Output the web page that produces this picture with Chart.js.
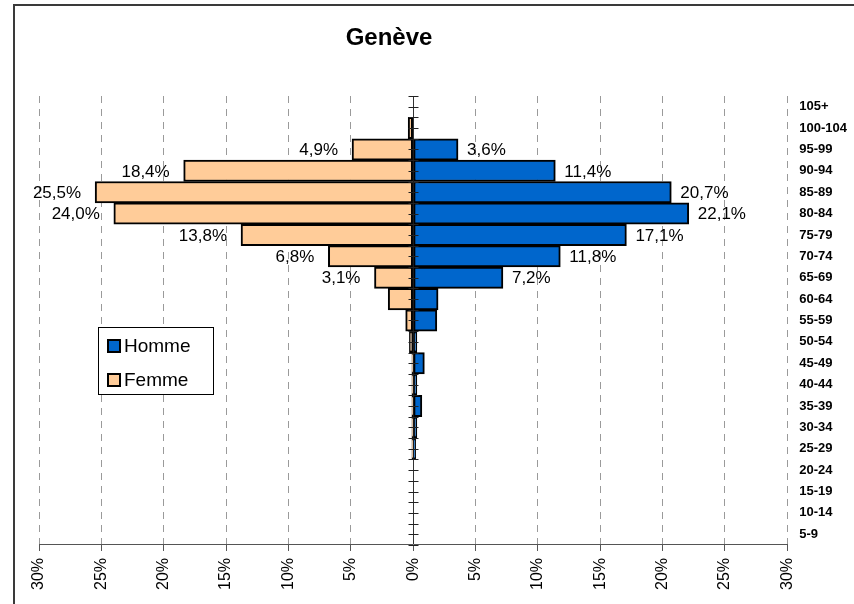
<!DOCTYPE html>
<html>
<head>
<meta charset="utf-8">
<script src="https://cdn.jsdelivr.net/npm/chart.js@4.4.1/dist/chart.umd.min.js"></script>
<style>
  html, body { margin: 0; padding: 0; background: #fff; overflow: hidden; }
  #wrap { position: relative; width: 854px; height: 604px; }
  #frame {
    position: absolute; left: 13px; top: 4px; width: 900px; height: 700px;
    border-left: 2px solid #3a3a3a; border-top: 2px solid #3a3a3a;
    pointer-events: none;
  }
</style>
</head>
<body>
<div id="wrap">
  <canvas id="pyramid" width="854" height="604"></canvas>
  <div id="frame"></div>
</div>
<script>
// ============================================
// Age pyramid - Genève
// ============================================

const TITLE = 'Genève';

// Age groups, top to bottom
const AGE_GROUPS = [
  '105+', '100-104', '95-99', '90-94', '85-89', '80-84', '75-79',
  '70-74', '65-69', '60-64', '55-59', '50-54', '45-49', '40-44',
  '35-39', '30-34', '25-29', '20-24', '15-19', '10-14', '5-9',
];

// Share of each sex per age group (%)
const HOMME = [0, 0, 3.6, 11.4, 20.7, 22.1, 17.1, 11.8, 7.2, 2.0, 1.9, 0.3, 0.9, 0.3, 0.7, 0.3, 0.2, 0, 0, 0, 0];
const FEMME = [0, 0.4, 4.9, 18.4, 25.5, 24.0, 13.8, 6.8, 3.1, 2.0, 0.6, 0.3, 0.1, 0.1, 0.1, 0.1, 0.1, 0, 0, 0, 0];

// Axis ticks (%)
const X_MIN = -30;
const X_MAX = 30;
const X_STEP = 5;

// Only bars at least this big get a value label
const LABEL_MIN = 3;

const FONT = '"Liberation Sans", Arial, Helvetica, sans-serif';
const BLUE = '#0066CC';
const PEACH = '#FFCC99';

const fmtPct = (v) => v.toFixed(1).replace('.', ',') + '%';

/**
 * Value labels outside the bar ends
 */
const barLabels = {
  id: 'barLabels',
  afterDatasetsDraw(chart) {
    const ctx = chart.ctx;
    ctx.save();
    ctx.font = '17px ' + FONT;
    ctx.fillStyle = '#000';
    ctx.textBaseline = 'middle';
    chart.data.datasets.forEach((ds, i) => {
      chart.getDatasetMeta(i).data.forEach((bar, j) => {
        const v = ds.data[j];
        if (Math.abs(v) < LABEL_MIN) return;
        if (v > 0) {
          ctx.textAlign = 'left';
          ctx.fillText(fmtPct(v), bar.x + 9, bar.y + 1);
        } else {
          ctx.textAlign = 'right';
          ctx.fillText(fmtPct(-v), bar.x - 14, bar.y + 1);
        }
      });
    });
    ctx.restore();
  },
};

/**
 * Small crossing ticks on the zero axis (category centres and edges)
 */
const zeroAxisTicks = {
  id: 'zeroAxisTicks',
  afterDatasetsDraw(chart) {
    const { ctx, scales: { x, y } } = chart;
    const x0 = Math.round(x.getPixelForValue(0)) + 0.5;
    const half = (y.getPixelForValue(1) - y.getPixelForValue(0)) / 2;
    const first = y.getPixelForValue(0) - half;
    ctx.save();
    ctx.strokeStyle = '#222';
    ctx.lineWidth = 1;
    ctx.beginPath();
    for (let k = 0; k <= AGE_GROUPS.length * 2; k++) {
      const py = Math.round(first + k * half) + 0.5;
      ctx.moveTo(x0 - 5, py);
      ctx.lineTo(x0 + 5, py);
    }
    ctx.stroke();
    ctx.restore();
  },
};

/**
 * Title (sits left of centre in the original)
 */
const chartTitle = {
  id: 'chartTitle',
  afterDraw(chart) {
    const ctx = chart.ctx;
    ctx.save();
    ctx.font = 'bold 24px ' + FONT;
    ctx.fillStyle = '#000';
    ctx.textAlign = 'center';
    ctx.textBaseline = 'middle';
    ctx.fillText(TITLE, 389, 38);
    ctx.restore();
  },
};

/**
 * Boxed legend inside the plot, left side
 */
const boxLegend = {
  id: 'boxLegend',
  afterDraw(chart) {
    const ctx = chart.ctx;
    const left = 98, top = 327, w = 115, h = 67;
    ctx.save();
    ctx.fillStyle = '#fff';
    ctx.fillRect(left, top, w, h);
    ctx.strokeStyle = '#000';
    ctx.lineWidth = 1;
    ctx.strokeRect(left + 0.5, top + 0.5, w, h);
    ctx.font = '19px ' + FONT;
    ctx.textAlign = 'left';
    ctx.textBaseline = 'middle';
    chart.data.datasets.forEach((ds, i) => {
      const cy = top + 19 + i * 34;
      ctx.fillStyle = ds.backgroundColor;
      ctx.fillRect(left + 10, cy - 6, 12, 12);
      ctx.lineWidth = 2;
      ctx.strokeRect(left + 10, cy - 6, 12, 12);
      ctx.fillStyle = '#000';
      ctx.fillText(ds.label, left + 26, cy + 1);
    });
    ctx.restore();
  },
};

const canvas = document.getElementById('pyramid');

new Chart(canvas.getContext('2d'), {
  type: 'bar',
  data: {
    labels: AGE_GROUPS,
    datasets: [
      {
        label: 'Homme',
        data: HOMME,
        backgroundColor: BLUE,
        borderColor: '#000',
        borderWidth: 2,
        borderSkipped: false,
        barPercentage: 1,
        categoryPercentage: 1,
      },
      {
        label: 'Femme',
        data: FEMME.map((v) => -v),
        backgroundColor: PEACH,
        borderColor: '#000',
        borderWidth: 2,
        borderSkipped: false,
        barPercentage: 1,
        categoryPercentage: 1,
      },
    ],
  },
  options: {
    indexAxis: 'y',
    responsive: false,
    animation: false,
    layout: {
      padding: { top: 96, left: 39, right: -5, bottom: 7 },
    },
    plugins: {
      legend: { display: false },
      title: { display: false },
      tooltip: { enabled: false },
    },
    scales: {
      x: {
        type: 'linear',
        stacked: true,
        min: X_MIN,
        max: X_MAX,
        ticks: {
          stepSize: X_STEP,
          autoSkip: false,
          minRotation: 90,
          maxRotation: 90,
          padding: 7,
          color: '#000',
          font: { family: FONT, size: 16 },
          callback: (v) => Math.abs(v) + '%',
        },
        grid: {
          color: (c) => (c.tick && c.tick.value === 0 ? '#333' : '#9a9a9a'),
          lineWidth: 1,
          drawTicks: true,
          tickLength: 6,
          tickColor: '#555',
        },
        border: {
          display: true,
          color: '#555',
          width: 1,
          dash: (c) => (c.tick && c.tick.value === 0 ? [] : [7, 6]),
        },
      },
      y: {
        type: 'category',
        position: 'right',
        stacked: true,
        grid: { display: false, drawTicks: false },
        border: { display: false },
        ticks: {
          padding: 12,
          color: '#000',
          font: { family: FONT, size: 13, weight: 'bold' },
        },
      },
    },
  },
  plugins: [barLabels, zeroAxisTicks, chartTitle, boxLegend],
});
</script>
</body>
</html>
